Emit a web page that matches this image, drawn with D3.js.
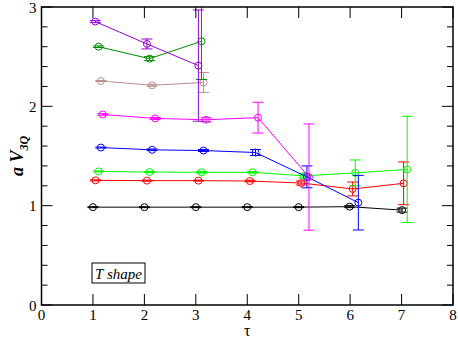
<!DOCTYPE html>
<html><head><meta charset="utf-8">
<script src="https://cdn.jsdelivr.net/npm/d3@7"></script>
<style>body{margin:0;background:#fff}svg{display:block}</style>
</head><body><svg id="c" width="458" height="340"></svg>
<script>
const xTicks = [0,1,2,3,4,5,6,7,8];
const yTicks = [0,1,2,3];
const seriesNames = ["black","red","green","blue","magenta","brown","darkgreen","violet"];
const seriesColors = ["#000000","#ff0000","#00ff00","#0000ff","#ff00ff","#bc8f8f","#008b00","#9400d3"];
const tauBlack = [1.0,2.0,3.0,4.0,5.0,5.99,7.01];
const valBlack = [0.985,0.985,0.985,0.985,0.985,0.99,0.955];
const errBlack = [0.005,0.005,0.005,0.005,0.005,0.01,0.02];
const tauRed = [1.05,2.05,3.05,4.05,5.05,6.05,7.04];
const valRed = [1.255,1.252,1.252,1.248,1.228,1.168,1.225];
const errRed = [0.005,0.005,0.005,0.008,0.02,0.07,0.215];
const tauGreen = [1.11,2.1,3.11,4.1,5.1,6.1,7.11];
const valGreen = [1.345,1.338,1.336,1.336,1.3,1.33,1.365];
const errGreen = [0.005,0.005,0.008,0.008,0.02,0.13,0.535];
const tauBlue = [1.155,2.15,3.15,4.16,5.16,6.16];
const valBlue = [1.585,1.562,1.555,1.535,1.29,1.03];
const errBlue = [0.005,0.008,0.01,0.03,0.11,0.275];
const tauMagenta = [1.19,2.21,3.2,4.21,5.2];
const valMagenta = [1.918,1.878,1.865,1.886,1.288];
const errMagenta = [0.008,0.01,0.02,0.155,0.535];
const tauBrown = [1.155,2.15,3.15];
const valBrown = [2.255,2.212,2.24];
const errBrown = [0.005,0.01,0.1];
const tauDarkGreen = [1.11,2.1,3.11];
const valDarkGreen = [2.6,2.48,2.655];
const errDarkGreen = [0.008,0.02,0.385];
const tauViolet = [1.045,2.05,3.05];
const valViolet = [2.853,2.628,2.41];
const errViolet = [0.01,0.05,0.56];

const tauAll = [tauBlack,tauRed,tauGreen,tauBlue,tauMagenta,tauBrown,tauDarkGreen,tauViolet];
const valAll = [valBlack,valRed,valGreen,valBlue,valMagenta,valBrown,valDarkGreen,valViolet];
const errAll = [errBlack,errRed,errGreen,errBlue,errMagenta,errBrown,errDarkGreen,errViolet];

const FONT = '"Liberation Serif","DejaVu Serif","Times New Roman",serif';
const L=41.5, R=453, T=7, B=305;
const svg = d3.select("#c");
const x = d3.scaleLinear().domain([0,8]).range([L,R]);
const y = d3.scaleLinear().domain([0,3]).range([B,T]);

svg.append("defs").append("clipPath").attr("id","clip").append("rect")
  .attr("x",L).attr("y",T).attr("width",R-L).attr("height",B-T);

const g = svg.append("g").attr("clip-path","url(#clip)");
seriesNames.forEach((name,i)=>{
  const col = seriesColors[i];
  const pts = tauAll[i].map((t,j)=>({t, v:valAll[i][j], e:errAll[i][j]}));
  const sg = g.append("g").attr("stroke",col).attr("fill","none").attr("stroke-width",1);
  sg.append("path").attr("d", d3.line().x(d=>x(d.t)).y(d=>y(d.v))(pts));
  pts.forEach(d=>{
    const cx=x(d.t), y1=y(d.v+d.e), y0=y(d.v-d.e);
    sg.append("line").attr("x1",cx).attr("x2",cx).attr("y1",y1).attr("y2",y0);
    sg.append("line").attr("x1",cx-5.5).attr("x2",cx+5.5).attr("y1",y1).attr("y2",y1);
    sg.append("line").attr("x1",cx-5.5).attr("x2",cx+5.5).attr("y1",y0).attr("y2",y0);
    sg.append("circle").attr("cx",cx).attr("cy",y(d.v)).attr("r",3.5);
  });
});

svg.append("rect").attr("x",L).attr("y",T).attr("width",R-L).attr("height",B-T)
  .attr("fill","none").attr("stroke","#000").attr("stroke-width",1.5);

const ax = svg.append("g").attr("stroke","#000").attr("stroke-width",1);
xTicks.forEach(t=>{
  ax.append("line").attr("x1",x(t)).attr("x2",x(t)).attr("y1",B).attr("y2",B-11);
  ax.append("line").attr("x1",x(t)).attr("x2",x(t)).attr("y1",T).attr("y2",T+11);
});
d3.range(0,3.001,0.2).forEach(t=>{
  const major = Math.abs(t-Math.round(t))<1e-6;
  const len = major?11:6;
  ax.append("line").attr("x1",L).attr("x2",L+len).attr("y1",y(t)).attr("y2",y(t));
  ax.append("line").attr("x1",R).attr("x2",R-len).attr("y1",y(t)).attr("y2",y(t));
});

svg.append("g").selectAll("text").data(xTicks).join("text")
  .style("font-family",FONT)
  .attr("x",d=>x(d)).attr("y",B+15).attr("text-anchor","middle")
  .attr("font-size",15).text(d=>d);
svg.append("g").selectAll("text").data(yTicks).join("text")
  .style("font-family",FONT)
  .attr("x",L-5).attr("y",d=>y(d)+5.5).attr("text-anchor","end")
  .attr("font-size",15).text(d=>d);

svg.append("text").style("font-family",FONT).attr("x",x(4)).attr("y",336).attr("text-anchor","middle")
  .attr("font-size",16).text("τ");

const yl = svg.append("text").style("font-family",FONT).attr("transform",`translate(23,${y(1.5)}) rotate(-90)`)
  .attr("text-anchor","middle").attr("font-size",18).attr("font-weight","bold").attr("font-style","italic");
yl.append("tspan").text("a V");
yl.append("tspan").attr("font-size",12).attr("dy",5).text("3Q");

svg.append("rect").attr("x",92).attr("y",263).attr("width",53).attr("height",20)
  .attr("fill","#fff").attr("stroke","#000").attr("stroke-width",1);
svg.append("text").style("font-family",FONT).attr("x",118.5).attr("y",278.5).attr("text-anchor","middle")
  .attr("font-size",15).attr("font-style","italic").text("T shape");
</script></body></html>
